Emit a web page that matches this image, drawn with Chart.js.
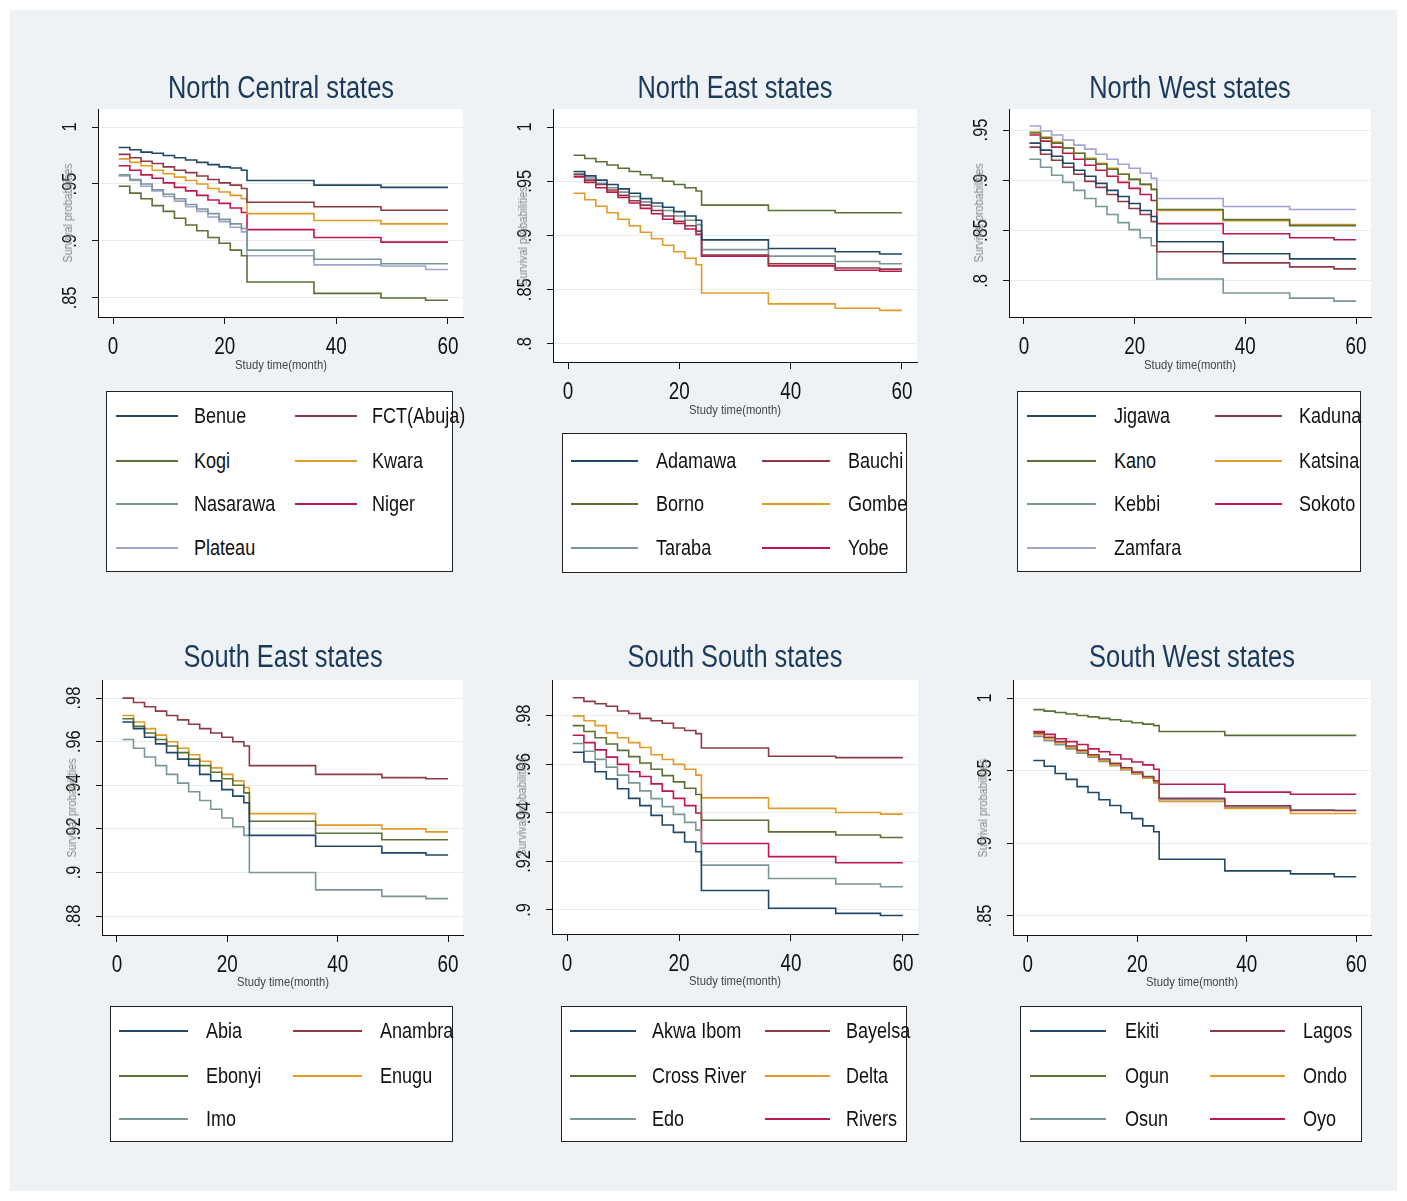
<!DOCTYPE html>
<html><head><meta charset="utf-8">
<script src="https://cdn.jsdelivr.net/npm/chart.js@4.4.1/dist/chart.umd.min.js"></script>
<style>
html,body{margin:0;padding:0;background:#fff;width:1407px;height:1201px;overflow:hidden;}
#fig{position:absolute;left:10px;top:10px;width:1387px;height:1181px;background:#eef2f4;}
canvas{position:absolute;}
.title{position:absolute;font-family:'Liberation Sans',Arial,sans-serif;font-size:31px;color:#1a3a5c;white-space:nowrap;transform:translate(-50%,-50%) scaleX(0.82);}
.xt{position:absolute;font-family:'Liberation Sans',Arial,sans-serif;font-size:12.5px;color:#444;white-space:nowrap;transform:translate(-50%,-50%) scaleX(0.9);}
.yt{position:absolute;font-family:'Liberation Sans',Arial,sans-serif;font-size:12px;color:#888;white-space:nowrap;transform:translate(-50%,-50%) rotate(-90deg) scaleX(0.9);}
.legend{position:absolute;background:#fff;border:1.5px solid #222;box-sizing:border-box;}
.sw{position:absolute;height:2px;}
.lt{position:absolute;font-family:'Liberation Sans',Arial,sans-serif;font-size:22px;color:#111;white-space:nowrap;transform-origin:0 50%;transform:translateY(-50%) scaleX(0.82);}
</style>
</head><body>
<div id="fig"></div>
<script>
// ---- shared data ----
const months = [1,3,5,7,9,11,13,15,17,19,21,23,24,36,48,56,60];
const xTicks = [0,20,40,60];
const palette = ['#1f4868','#8e3a46','#5a7034','#e39a26','#7a9696','#c0174a','#9fa3cf'];

// ---- North Central ----
const ncStates = ['Benue','FCT(Abuja)','Kogi','Kwara','Nasarawa','Niger','Plateau'];
const ncValues = [
  [.982,.980,.978,.977,.975,.973,.971,.969,.967,.965,.964,.962,.953,.949,.947,.947,.947],
  [.976,.973,.970,.968,.965,.962,.960,.957,.954,.951,.949,.946,.934,.930,.927,.927,.927],
  [.948,.942,.937,.931,.926,.920,.914,.909,.903,.898,.892,.887,.864,.854,.850,.848,.848],
  [.972,.969,.966,.962,.959,.956,.953,.950,.946,.943,.940,.937,.924,.918,.915,.915,.915],
  [.958,.954,.950,.945,.941,.937,.932,.928,.924,.919,.915,.911,.892,.884,.880,.880,.880],
  [.966,.962,.958,.955,.951,.947,.944,.940,.936,.933,.929,.925,.910,.903,.899,.899,.899],
  [.957,.953,.948,.944,.939,.935,.930,.926,.921,.917,.912,.908,.887,.879,.878,.875,.875]
];
const ncYTicks = [.85,.9,.95,1];

// ---- North East ----
const neStates = ['Adamawa','Bauchi','Borno','Gombe','Taraba','Yobe'];
const neValues = [
  [.959,.955,.951,.947,.943,.939,.934,.930,.926,.922,.918,.914,.896,.888,.885,.883,.883],
  [.956,.951,.947,.942,.937,.932,.928,.923,.918,.913,.909,.904,.882,.874,.870,.869,.869],
  [.974,.971,.968,.965,.962,.959,.956,.953,.950,.947,.944,.941,.928,.923,.921,.921,.921],
  [.939,.933,.927,.921,.915,.909,.903,.897,.891,.885,.879,.873,.847,.837,.833,.831,.831],
  [.957,.953,.948,.944,.940,.936,.931,.927,.923,.918,.914,.910,.887,.881,.876,.874,.874],
  [.954,.949,.944,.940,.935,.930,.925,.920,.915,.911,.906,.901,.881,.872,.868,.867,.867]
];
const neYTicks = [.8,.85,.9,.95,1];

// ---- North West ----
const nwStates = ['Jigawa','Kaduna','Kano','Katsina','Kebbi','Sokoto','Zamfara'];
const nwValues = [
  [.937,.930,.924,.917,.910,.904,.897,.890,.884,.877,.870,.864,.839,.827,.822,.822,.822],
  [.933,.926,.920,.913,.906,.899,.893,.886,.879,.872,.866,.859,.829,.818,.814,.812,.812],
  [.947,.942,.937,.932,.927,.921,.916,.911,.906,.901,.896,.891,.871,.861,.855,.855,.855],
  [.948,.943,.938,.932,.927,.922,.917,.912,.906,.901,.896,.891,.870,.860,.856,.856,.856],
  [.921,.913,.905,.898,.890,.882,.874,.866,.858,.851,.843,.835,.802,.788,.783,.780,.780],
  [.945,.939,.933,.927,.921,.915,.910,.904,.898,.892,.886,.880,.857,.847,.843,.841,.841],
  [.954,.949,.945,.940,.935,.931,.926,.921,.916,.912,.907,.902,.882,.874,.871,.871,.871]
];
const nwYTicks = [.8,.85,.9,.95];

// ---- South East ----
const seStates = ['Abia','Anambra','Ebonyi','Enugu','Imo'];
const seValues = [
  [.969,.966,.962,.959,.955,.952,.949,.945,.942,.938,.935,.932,.917,.912,.909,.908,.908],
  [.980,.978,.976,.974,.972,.970,.968,.966,.964,.962,.960,.958,.949,.945,.9435,.943,.943],
  [.9705,.967,.964,.961,.958,.955,.952,.949,.946,.943,.940,.9365,.9235,.918,.915,.915,.915],
  [.972,.969,.966,.963,.960,.957,.954,.951,.948,.945,.942,.939,.927,.9217,.920,.9186,.9186],
  [.961,.957,.953,.949,.945,.941,.937,.933,.929,.925,.921,.917,.900,.892,.889,.888,.888]
];
const seYTicks = [.88,.9,.92,.94,.96,.98];

// ---- South South ----
const ssStates = ['Akwa Ibom','Bayelsa','Cross River','Delta','Edo','Rivers'];
const ssValues = [
  [.965,.961,.957,.954,.950,.946,.943,.939,.935,.932,.928,.924,.908,.9007,.8986,.8977,.8977],
  [.9875,.986,.985,.984,.982,.981,.979,.978,.977,.975,.974,.9727,.9668,.9634,.9628,.9628,.9628],
  [.976,.9736,.971,.9684,.9658,.9632,.9606,.958,.9554,.9528,.9502,.9476,.937,.9322,.9309,.9299,.9299],
  [.980,.978,.976,.973,.971,.969,.967,.964,.962,.960,.958,.9556,.9462,.9419,.9402,.9395,.9395],
  [.9686,.9654,.9621,.9589,.9556,.9524,.9491,.9459,.9426,.9394,.9361,.9329,.9185,.913,.9107,.9096,.9096],
  [.972,.969,.966,.963,.960,.957,.955,.952,.949,.946,.943,.940,.9274,.922,.9195,.9195,.9195]
];
const ssYTicks = [.9,.92,.94,.96,.98];

// ---- South West ----
const swStates = ['Ekiti','Lagos','Ogun','Ondo','Osun','Oyo'];
const swValues = [
  [.957,.953,.948,.944,.939,.935,.930,.926,.921,.917,.912,.908,.889,.881,.879,.877,.877],
  [.976,.973,.970,.967,.964,.961,.958,.955,.952,.949,.946,.943,.931,.9258,.9226,.9226,.9226],
  [.992,.991,.990,.989,.988,.987,.986,.985,.984,.983,.982,.981,.977,.9743,.9743,.9743,.9743],
  [.975,.972,.969,.966,.963,.960,.957,.954,.951,.948,.945,.9414,.9288,.924,.9205,.9205,.9205],
  [.9736,.9707,.9678,.965,.9621,.9592,.9564,.9535,.9506,.9478,.9449,.942,.930,.9247,.923,.9226,.9226],
  [.977,.975,.972,.970,.968,.965,.963,.961,.958,.956,.954,.951,.9407,.9352,.9338,.9338,.9338]
];
const swYTicks = [.85,.9,.95,1];

// ---- layout (positions only) ----
const panels = [
  {title:'North Central states', states:ncStates, values:ncValues, yTicks:ncYTicks, ymin:.8333, ymax:1.0158,
   L:98,R:463,T:109,B:317, titleY:88, xtY:365,
   leg:{x:106,y:391,w:347,h:181,rows:[416,461,504,548],c1:[116,178,194],c2:[295,357,372]}},
  {title:'North East states', states:neStates, values:neValues, yTicks:neYTicks, ymin:.7834, ymax:1.0166,
   L:553,R:917,T:109,B:362, titleY:88, xtY:410,
   leg:{x:562,y:433,w:345,h:140,rows:[461,504,548],c1:[571,638,656],c2:[762,830,848]}},
  {title:'North West states', states:nwStates, values:nwValues, yTicks:nwYTicks, ymin:.7642, ymax:.9709,
   L:1009,R:1371,T:109,B:317, titleY:88, xtY:365,
   leg:{x:1017,y:391,w:344,h:181,rows:[416,461,504,548],c1:[1027,1096,1114],c2:[1215,1282,1299]}},
  {title:'South East states', states:seStates, values:seValues, yTicks:seYTicks, ymin:.8713, ymax:.9883,
   L:102,R:463,T:680,B:935, titleY:657, xtY:982,
   leg:{x:110,y:1006,w:343,h:136,rows:[1031,1076,1119],c1:[119,188,206],c2:[293,362,380]}},
  {title:'South South states', states:ssStates, values:ssValues, yTicks:ssYTicks, ymin:.8901, ymax:.9948,
   L:552,R:918,T:680,B:934, titleY:657, xtY:981,
   leg:{x:561,y:1006,w:346,h:136,rows:[1031,1076,1119],c1:[570,636,652],c2:[765,830,846]}},
  {title:'South West states', states:swStates, values:swValues, yTicks:swYTicks, ymin:.8369, ymax:1.0124,
   L:1013,R:1371,T:680,B:935, titleY:657, xtY:982,
   leg:{x:1020,y:1006,w:342,h:136,rows:[1031,1076,1119],c1:[1030,1106,1125],c2:[1210,1285,1303]}}
];

const SANS = "'Liberation Sans',Arial,sans-serif";
const NARROW_X = 0.82;
const fmt = v => (v === 1 ? '1' : String(v).replace(/^0/, ''));

// draws condensed tick labels for both axes at positions given by the scales
const tickLabelPlugin = {
  id: 'condensedTickLabels',
  afterDraw(chart) {
    const ctx = chart.ctx;
    const ys = chart.scales.y, xs = chart.scales.x;
    ctx.save();
    ctx.fillStyle = '#111';
    ctx.textAlign = 'center';
    ctx.textBaseline = 'middle';
    ctx.font = '20px ' + SANS;
    ys.ticks.forEach(t => {
      const y = ys.getPixelForValue(t.value);
      ctx.save();
      ctx.translate(ys.right - 28, y);
      ctx.rotate(-Math.PI / 2);
      ctx.scale(NARROW_X, 1);
      ctx.fillText(fmt(t.value), 0, 0);
      ctx.restore();
    });
    ctx.font = '23px ' + SANS;
    xs.ticks.forEach(t => {
      const x = xs.getPixelForValue(t.value);
      ctx.save();
      ctx.translate(x, xs.top + 31);
      ctx.scale(NARROW_X, 1);
      ctx.fillText(String(t.value), 0, 0);
      ctx.restore();
    });
    ctx.restore();
  }
};

const body = document.body;
function addDiv(cls, text, style) {
  const d = document.createElement('div');
  d.className = cls;
  if (text !== null) d.textContent = text;
  Object.assign(d.style, style);
  body.appendChild(d);
  return d;
}

panels.forEach(p => {
  const padL = 60, padT = 10, padR = 10, padB = 60;
  const w = (p.R - p.L) + padL + padR, h = (p.B - p.T) + padT + padB;

  // white plot region behind the chart
  addDiv('', null, {position: 'absolute', left: p.L + 'px', top: p.T + 'px',
    width: (p.R - p.L) + 'px', height: (p.B - p.T) + 'px', background: '#fff'});

  const cv = document.createElement('canvas');
  cv.width = w; cv.height = h;
  cv.style.left = (p.L - padL) + 'px';
  cv.style.top = (p.T - padT) + 'px';
  cv.style.width = w + 'px'; cv.style.height = h + 'px';
  body.appendChild(cv);

  const datasets = p.states.map((name, i) => ({
    label: name,
    data: months.map((m, k) => ({x: m, y: p.values[i][k]})),
    borderColor: palette[i],
    backgroundColor: palette[i],
    borderWidth: 1.6,
    pointRadius: 0,
    stepped: 'before',
    fill: false
  }));

  new Chart(cv, {
    type: 'line',
    data: {datasets},
    plugins: [tickLabelPlugin],
    options: {
      responsive: false,
      animation: false,
      devicePixelRatio: 1,
      layout: {padding: {left: 0, top: padT, right: padR, bottom: 0}},
      plugins: {legend: {display: false}, title: {display: false}, tooltip: {enabled: false}},
      scales: {
        x: {
          type: 'linear', min: -2.7, max: 62.7,
          afterBuildTicks: s => { s.ticks = xTicks.map(v => ({value: v})); },
          afterFit: s => { s.height = padB; },
          ticks: {display: false},
          grid: {drawOnChartArea: false, tickLength: 7, tickColor: '#111', tickWidth: 1},
          border: {display: true, color: '#111', width: 1}
        },
        y: {
          type: 'linear', min: p.ymin, max: p.ymax,
          afterBuildTicks: s => { s.ticks = p.yTicks.map(v => ({value: v})); },
          afterFit: s => { s.width = padL; },
          ticks: {display: false},
          grid: {drawOnChartArea: true, color: '#e6ecef', lineWidth: 1, tickLength: 6, tickColor: '#111', tickWidth: 1},
          border: {display: true, color: '#111', width: 1}
        }
      }
    }
  });

  addDiv('title', p.title, {left: ((p.L + p.R) / 2) + 'px', top: p.titleY + 'px'});
  addDiv('xt', 'Study time(month)', {left: ((p.L + p.R) / 2) + 'px', top: p.xtY + 'px'});
  addDiv('yt', 'Survival probabilities', {left: (p.L - 30) + 'px', top: ((p.T + p.B) / 2) + 'px'});

  const g = p.leg;
  addDiv('legend', null, {left: g.x + 'px', top: g.y + 'px', width: g.w + 'px', height: g.h + 'px'});
  p.states.forEach((name, i) => {
    const row = Math.floor(i / 2), c = (i % 2 === 0) ? g.c1 : g.c2, y = g.rows[row];
    addDiv('sw', null, {left: c[0] + 'px', top: (y - 1) + 'px', width: (c[1] - c[0]) + 'px', background: palette[i]});
    addDiv('lt', name, {left: c[2] + 'px', top: y + 'px'});
  });
});
</script>
</body></html>
